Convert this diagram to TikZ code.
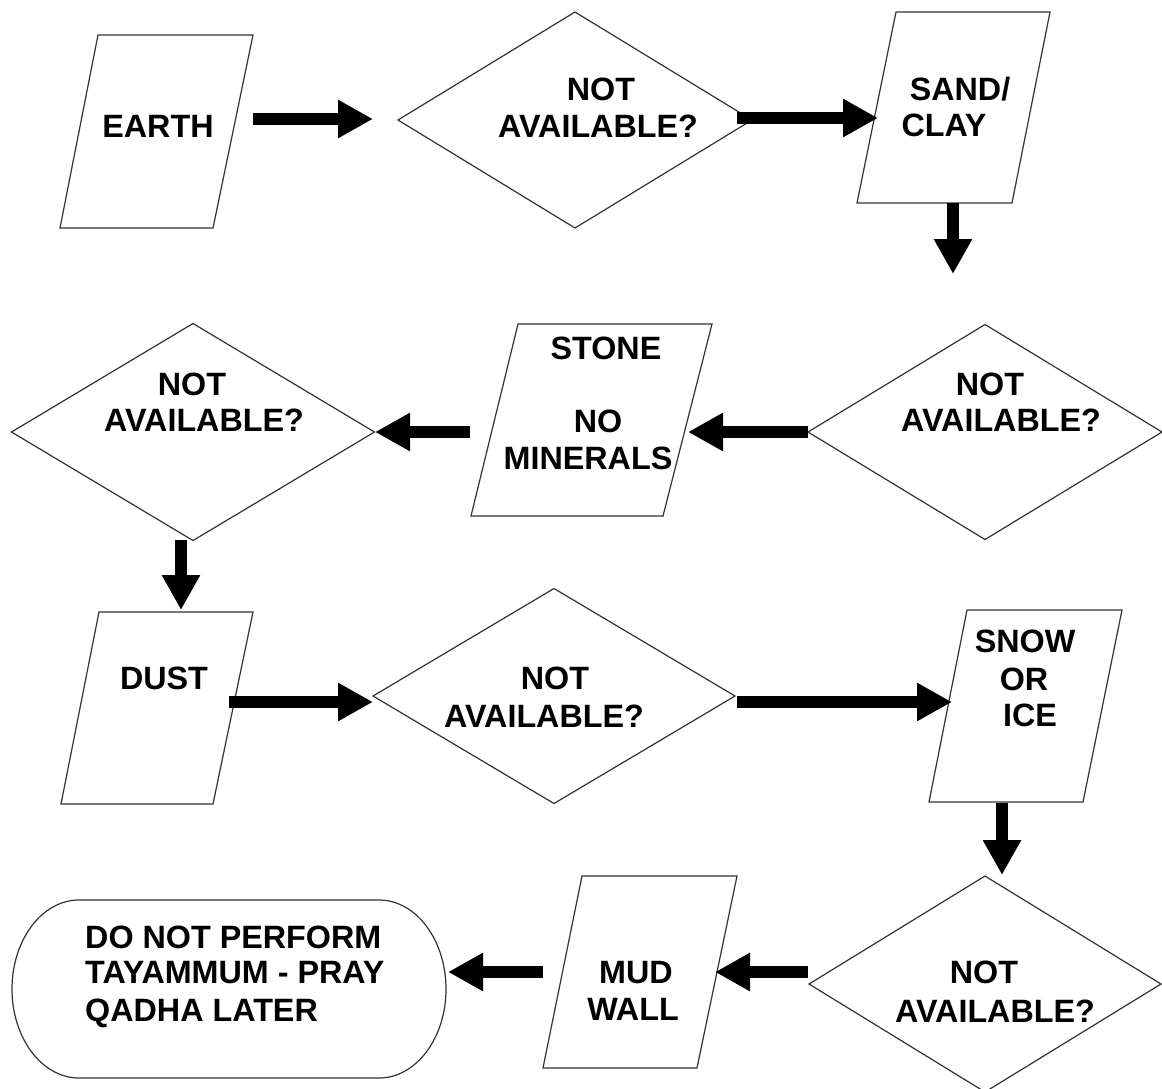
\documentclass[tikz,border=0pt]{standalone}
\usepackage{fontspec}
\setmainfont{Liberation Sans}
\usetikzlibrary{arrows.meta,shapes.geometric}
\tikzset{
  shp/.style={draw=black!80, line width=1.2pt, line join=miter},
  dia/.style={shape=diamond, draw=black!80, line width=1.2pt, inner sep=0pt, outer sep=0pt},
  txt/.style={anchor=base, inner sep=0pt, font=\bfseries\fontsize{32.3}{36}\selectfont},
  ltxt/.style={txt, anchor=base west},
  flow/.style={draw=black, line width=12pt, -{Triangle[length=35pt,width=36pt]}},
}
\begin{document}
\begin{tikzpicture}[x=1pt,y=-1pt]
\useasboundingbox[fill=white] (0,0) rectangle (1162,1088);

% ---------- row 1 ----------
\draw[shp] (98,35) -- (253,35) -- (213,228) -- (60,228) -- cycle;
\coordinate (earth) at (156,131);
\node[txt] (earthT) at (158,137) {EARTH};

\node[dia, minimum width=354pt, minimum height=216pt] (d1) at (575,120) {};
\node[txt] (d1a) at (601,100) {NOT};
\node[txt] (d1b) at (598,137) {AVAILABLE?};

\draw[shp] (896,12) -- (1050,12) -- (1012,203) -- (857,203) -- cycle;
\coordinate (sand) at (954,108);
\node[txt] (sandA) at (960,100) {SAND/};
\node[txt] (sandB) at (944,136) {CLAY};

% ---------- row 2 ----------
\node[dia, minimum width=354pt, minimum height=215pt] (d2) at (985,432) {};
\node[txt] (d2a) at (990,395) {NOT};
\node[txt] (d2b) at (1001,431) {AVAILABLE?};

\draw[shp] (518,324) -- (712,324) -- (663,516) -- (471,516) -- cycle;
\coordinate (stone) at (591,420);
\node[txt] (stoneA) at (606,359) {STONE};
\node[txt] (stoneB) at (598,432) {NO};
\node[txt] (stoneC) at (588,469) {MINERALS};

\node[dia, minimum width=363pt, minimum height=217pt] (d3) at (193,432) {};
\node[txt] (d3a) at (192,395) {NOT};
\node[txt] (d3b) at (204,431) {AVAILABLE?};

% ---------- row 3 ----------
\draw[shp] (99,612) -- (253,612) -- (213,804) -- (61,804) -- cycle;
\coordinate (dust) at (156,708);
\node[txt] (dustT) at (164,689) {DUST};

\node[dia, minimum width=362pt, minimum height=215pt] (d4) at (554,696) {};
\node[txt] (d4a) at (555,689) {NOT};
\node[txt] (d4b) at (544,727) {AVAILABLE?};

\draw[shp] (967,610) -- (1122,610) -- (1083,802) -- (929,802) -- cycle;
\coordinate (snow) at (1025,706);
\node[txt] (snowA) at (1025,652) {SNOW};
\node[txt] (snowB) at (1024,690) {OR};
\node[txt] (snowC) at (1030,726) {ICE};

% ---------- row 4 ----------
\node[dia, minimum width=352pt, minimum height=216pt] (d5) at (985,984) {};
\node[txt] (d5a) at (984,983) {NOT};
\node[txt] (d5b) at (995,1022) {AVAILABLE?};

\draw[shp] (582,876) -- (737,876) -- (697,1068) -- (543,1068) -- cycle;
\coordinate (mud) at (640,972);
\node[txt] (mudA) at (636,983) {MUD};
\node[txt] (mudB) at (633,1020) {WALL};

\draw[shp] (79,900) -- (379,900)
  arc[start angle=-90, end angle=90, x radius=67, y radius=89]
  -- (79,1078)
  arc[start angle=90, end angle=270, x radius=67, y radius=89] -- cycle;
\coordinate (term) at (229,989);
\node[ltxt] (termA) at (85,948) {DO NOT PERFORM};
\node[ltxt] (termB) at (85,983) {TAYAMMUM - PRAY};
\node[ltxt] (termC) at (85,1021) {QADHA LATER};

% ---------- connector end points ----------
\coordinate (a1s) at (253,119);  \coordinate (a1e) at (373,119);
\coordinate (a2s) at (737,118);  \coordinate (a2e) at (878,118);
\coordinate (a3s) at (953,203);  \coordinate (a3e) at (953,274);
\coordinate (a4s) at (808,432);  \coordinate (a4e) at (688,432);
\coordinate (a5s) at (470,432);  \coordinate (a5e) at (375,432);
\coordinate (a6s) at (181,540);  \coordinate (a6e) at (181,610);
\coordinate (a7s) at (229,702);  \coordinate (a7e) at (373,702);
\coordinate (a8s) at (737,702);  \coordinate (a8e) at (952,702);
\coordinate (a9s) at (1002,803); \coordinate (a9e) at (1002,875);
\coordinate (a10s) at (808,972); \coordinate (a10e) at (715,972);
\coordinate (a11s) at (543,972); \coordinate (a11e) at (448,972);

\draw[flow] (a1s) -- (a1e);
\draw[flow] (a2s) -- (a2e);
\draw[flow] (a3s) -- (a3e);
\draw[flow] (a4s) -- (a4e);
\draw[flow] (a5s) -- (a5e);
\draw[flow] (a6s) -- (a6e);
\draw[flow] (a7s) -- (a7e);
\draw[flow] (a8s) -- (a8e);
\draw[flow] (a9s) -- (a9e);
\draw[flow] (a10s) -- (a10e);
\draw[flow] (a11s) -- (a11e);
\end{tikzpicture}
\end{document}
